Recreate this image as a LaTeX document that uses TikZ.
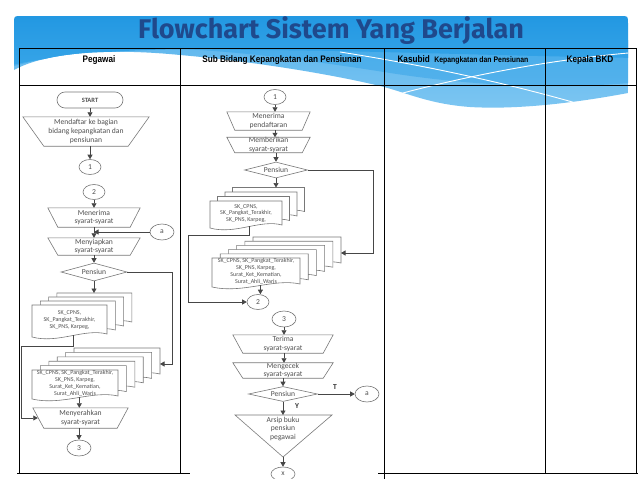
\documentclass[tikz,border=0pt]{standalone}
\usepackage{fontspec}
\setmainfont{Carlito}
\newfontfamily\hdrfont[FakeStretch=0.86]{Liberation Sans}
\newfontfamily\ttlfont{Fira Sans}
\usetikzlibrary{shapes.geometric,arrows.meta,calc}
\definecolor{ttlblue}{RGB}{31,73,140}
\definecolor{bnDark}{RGB}{28,148,224}
\definecolor{bnDark2}{RGB}{55,165,232}
\definecolor{bnMid}{RGB}{70,172,234}
\definecolor{bnLight}{RGB}{85,178,236}
\definecolor{bnLight2}{RGB}{125,198,242}
\definecolor{shpgray}{RGB}{120,120,120}
\definecolor{txtgray}{RGB}{80,80,80}
\definecolor{arrgray}{RGB}{70,70,70}
\tikzset{
  shp/.style={draw=shpgray, line width=0.6pt},
  flowtext/.style={font=\fontsize{7.6}{8.6}\selectfont, text=txtgray, align=center, inner sep=0pt},
  manopbox/.style={flowtext, draw=none},
  decision/.style={flowtext, shp, diamond, aspect=3},
  connector/.style={flowtext, shp, ellipse, minimum width=22pt, minimum height=15pt},
  terminal/.style={flowtext, shp, rectangle, rounded corners=8pt, minimum width=66pt, minimum height=16pt, font=\fontsize{6.5}{7.5}\selectfont\bfseries},
  arr/.style={draw=arrgray, line width=0.65pt, -{Triangle[length=4.5pt,width=5pt]}},
  page/.style={shp, fill=white},
  doctext/.style={font=\fontsize{6}{6.8}\selectfont, text=txtgray, align=center, inner sep=0pt},
  tbl/.style={draw=black, line width=1pt},
  hdr/.style={font=\hdrfont\bfseries\fontsize{9.5}{11}\selectfont, text=black, inner sep=0pt},
  lbl/.style={font=\fontsize{7.5}{8.5}\selectfont\bfseries, text=black!80, inner sep=0pt}
}
% manual operation: name, cx, cy, width, height, inset, text
\newcommand\manop[7]{%
  \node[manopbox, minimum width=#4pt, minimum height=#5pt] (#1) at (#2,#3) {#7};
  \draw[shp] (#1.north west) -- (#1.north east) -- ([xshift=-#6pt]#1.south east) -- ([xshift=#6pt]#1.south west) -- cycle;}
% document stack: name, X, Y, w, h, back pages, dx, dy, text
\newcommand\docstack[9]{%
  \foreach \i in {#6,...,0}{%
    \pgfmathsetmacro\px{#2+\i*#7}%
    \pgfmathsetmacro\py{#3+\i*#8}%
    \pgfmathsetmacro\pr{\px+#4}%
    \pgfmathsetmacro\pb{\py+#5}%
    \draw[page] (\px,\py) -- (\pr,\py) -- (\pr,\pb-3) .. controls (\px+0.7*#4,\pb-9) and (\px+0.35*#4,\pb+7) .. (\px,\pb) -- cycle;
  }
  \node[doctext] (#1) at (#2+#4/2, #3+#5/2-1) {#9};
  \coordinate (#1T) at (#2, #3+#6*#8);
  \coordinate (#1R) at (#2+#6*#7+#4, #3+#6*#8+16);
  \coordinate (#1B) at (#2+0.55*#4, #3+#5-2);}
\def\bannerpath{(14,24) .. controls (14,16) .. (22,16) -- (620,16) .. controls (628,16) .. (628,24) -- (628,93) .. controls (580,102) and (520,110) .. (470,107) .. controls (430,104) and (410,94) .. (384,87) .. controls (340,76) and (260,62) .. (180,55) .. controls (120,49) and (50,50) .. (14,70) -- cycle}
\begin{document}
\begin{tikzpicture}[x=1pt,y=-1pt]
\useasboundingbox (0,0) rectangle (638,479);
\fill[white] (0,0) rectangle (638,479);
% banner
\path[top color=bnLight, bottom color=bnLight2] \bannerpath;
\begin{scope}
  \clip \bannerpath;
  \path[top color=bnMid, bottom color=bnLight] (0,40) -- (640,40) -- (640,82) .. controls (560,90) and (470,86) .. (384,72) .. controls (320,62) and (260,54) .. (200,50) .. controls (120,46) and (60,52) .. (0,70) -- cycle;
  \path[top color=bnDark, bottom color=bnDark2] (0,0) -- (640,0) -- (640,58) .. controls (500,56) and (350,50) .. (250,50) .. controls (150,47) and (60,52) .. (0,68) -- cycle;
  \draw[white, line width=0.9pt] (340,52) .. controls (430,66) and (520,86) .. (600,110);
  \draw[white, line width=0.9pt] (384,98) .. controls (450,80) and (540,60) .. (640,52);
\end{scope}
\node[font=\ttlfont\bfseries\fontsize{27}{30}\selectfont, text=ttlblue, inner sep=0pt] (title) at (331,31) {Flowchart Sistem Yang Berjalan};
% table
\draw[tbl] (19,48) -- (637,48);
\draw[tbl] (19,85) -- (637,85);
\draw[tbl] (19,48) -- (19,473);
\draw[tbl] (180,48) -- (180,473);
\draw[tbl] (384,48) -- (384,479);
\draw[tbl] (545,48) -- (545,473);
\draw[tbl] (636,48) -- (636,473);
\draw[tbl] (17,473) -- (190,473);
\draw[tbl] (378,473) -- (638,473);
\node[hdr] (h1) at (99,60) {Pegawai};
\node[hdr] (h2) at (282,60) {Sub Bidang Kepangkatan dan Pensiunan};
\node[hdr] (h3) at (463,60) {Kasubid\ \ {\fontsize{8}{9}\selectfont Kepangkatan dan Pensiunan}};
\node[hdr] (h4) at (590,60) {Kepala BKD};
% ---------- Pegawai ----------
\node[terminal] (start) at (90,100) {START};
\manop{m1}{86}{131.5}{126}{29}{21}{Mendaftar ke bagian\\bidang kepangkatan dan\\pensiunan}
\node[connector] (c1) at (90,167) {1};
\node[connector] (c2) at (94,192) {2};
\manop{m2}{94}{217.5}{92}{19}{10}{Menerima\\syarat-syarat}
\manop{m3}{94}{246.5}{92}{17}{10}{Menyiapkan\\syarat-syarat}
\node[connector, minimum width=24pt, minimum height=16pt] (ca) at (162,232) {a};
\node[decision, minimum width=66pt, minimum height=18pt] (d1) at (94,272) {Pensiun};
\docstack{L1}{32}{305}{75}{32}{3}{8.3}{-4}{SK\_CPNS,\\SK\_Pangkat\_Terakhir,\\SK\_PNS, Karpeg,}
\docstack{L2}{32}{370}{86}{29}{5}{8.4}{-4.4}{SK\_CPNS, SK\_Pangkat\_Terakhir,\\SK\_PNS, Karpeg,\\Surat\_Ket\_Kematian,\\Surat\_Ahli\_Waris}
\manop{m4}{80.5}{418}{95}{20}{11}{Menyerahkan\\syarat-syarat}
\node[connector, minimum width=24pt, minimum height=16pt] (c3) at (79,448) {3};
\draw[arr] (start) -- (start |- m1.north);
\draw[arr] (c1 |- m1.south) -- (c1);
\draw[arr] (c2) -- (c2 |- m2.north);
\draw[arr] (m2.south) -- (m3.north);
\draw[arr] (ca) -- (ca -| m2.south);
\draw[arr] (m3.south) -- (d1.north);
\draw[arr] (d1.south) -- (d1.south |- L1T);
\draw[arr] (d1.east) -- ++(45,0) |- (L2R);
\draw[arr] (L1B) -- ++(0,11) -| ([xshift=-11pt]m4.west) -- ([xshift=5pt]m4.west);
\draw[arr] (L2B) -- (L2B |- m4.north);
\draw[arr] (c3 |- m4.south) -- (c3);
% ---------- Sub Bidang ----------
\node[connector] (c1b) at (275,97) {1};
\manop{m5}{268.5}{121}{83}{18}{8}{Menerima\\pendaftaran}
\manop{m6}{268.5}{145}{83}{15}{8}{Memberikan\\syarat-syarat}
\node[decision, minimum width=63pt, minimum height=16pt] (d2) at (276,170) {Pensiun};
\docstack{M1}{210}{201}{72}{27}{3}{7.5}{-4.5}{SK\_CPNS,\\SK\_Pangkat\_Terakhir,\\SK\_PNS, Karpeg,}
\docstack{M2}{212}{258}{88}{29}{5}{8.2}{-4.2}{SK\_CPNS, SK\_Pangkat\_Terakhir,\\SK\_PNS, Karpeg,\\Surat\_Ket\_Kematian,\\Surat\_Ahli\_Waris}
\node[connector] (c2b) at (258,302) {2};
\node[connector, minimum width=24pt, minimum height=16pt] (c3b) at (284,319) {3};
\manop{m7}{283}{344}{100}{18}{10}{Terima\\syarat-syarat}
\manop{m8}{283}{370.5}{100}{15}{10}{Mengecek\\syarat-syarat}
\node[decision, minimum width=69pt, minimum height=15pt] (d3) at (283,394) {Pensiun};
\node[connector, minimum width=24pt, minimum height=16pt] (caa) at (367,394) {a};
\coordinate (arTL) at (235,415);
\coordinate (arTR) at (332,415);
\coordinate (arB) at (283,457);
\draw[shp] (arTL) -- (arTR) -- (arB) -- cycle;
\node[flowtext] (ar) at (283,429) {Arsip buku\\pensiun\\pegawai};
\node[connector, minimum width=24pt, minimum height=14pt] (cx) at (283,474) {x};
\node[lbl] (lblT) at (335,387) {T};
\node[lbl] (lblY) at (297,406) {Y};
\draw[arr] (c1b) -- (c1b |- m5.north);
\draw[arr] (c1b |- m5.south) -- (c1b |- m6.north);
\draw[arr] (d2 |- m6.south) -- (d2.north);
\draw[arr] (d2.south) -- (d2.south |- M1T);
\draw[arr] (d2.east) -- ++(65.5,0) |- (M2R);
\draw[arr] (M1B) -- ++(0,9) -| ([xshift=-58pt]c2b.west) -- (c2b.west);
\draw[arr] (M2B) -- (M2B |- c2b.north);
\draw[arr] (c3b) -- (c3b |- m7.north);
\draw[arr] (c3b |- m7.south) -- (c3b |- m8.north);
\draw[arr] (m8.south) -- (d3.north);
\draw[arr] (d3) -- (caa);
\draw[arr] (d3.south) -- (d3.south |- arTL);
\draw[arr] (arB) -- (cx);
\end{tikzpicture}
\end{document}
